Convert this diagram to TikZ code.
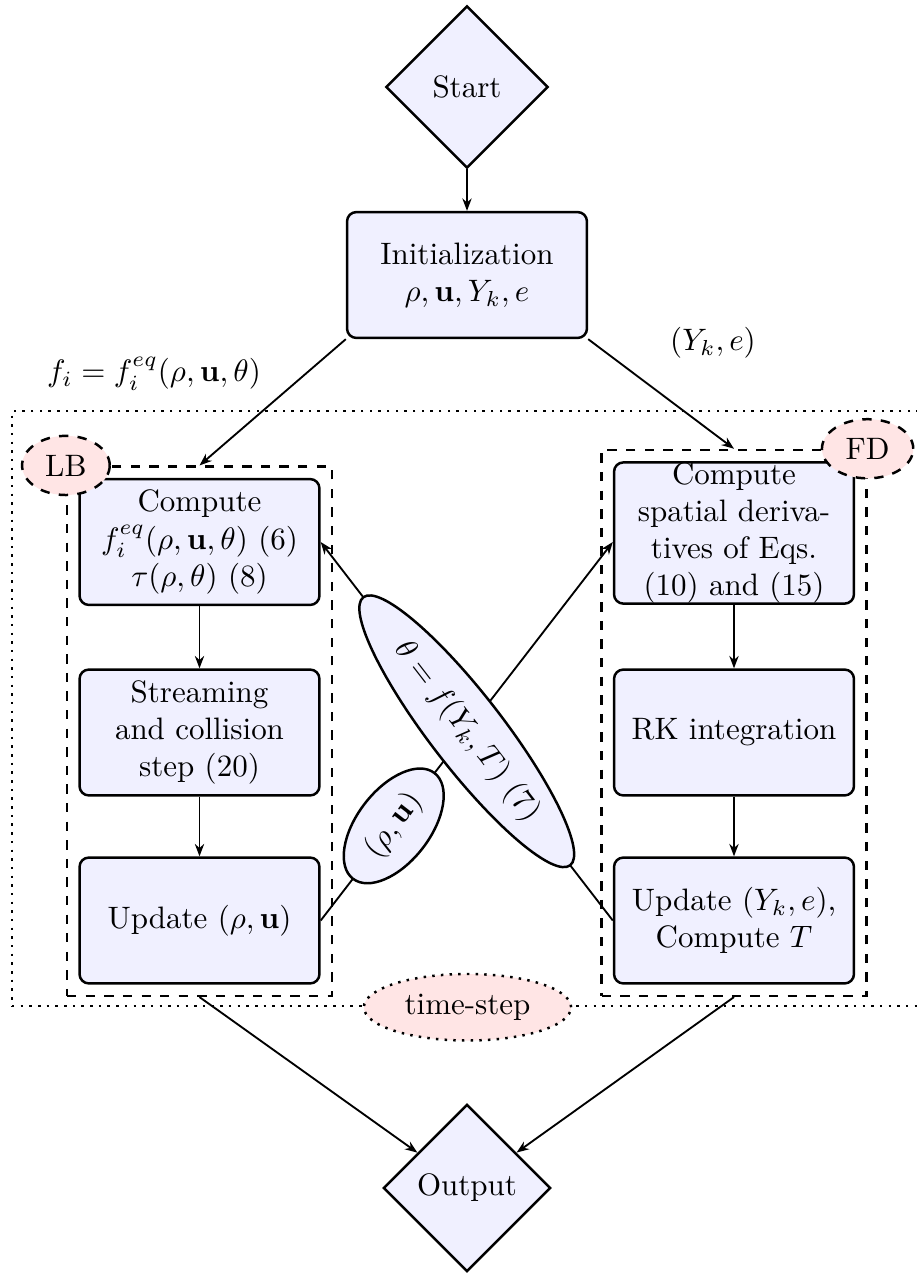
\documentclass[tikz,border=0pt]{standalone}
\usetikzlibrary{shapes.geometric,arrows.meta,fit}
\begin{document}
\begin{tikzpicture}[x=0.3226pt,y=-0.3226pt,
  box/.style={draw, thick, rounded corners=3pt, fill=blue!6, align=center,
    minimum width=77.4pt, minimum height=40.6pt, inner sep=2pt},
  dia/.style={draw, thick, diamond, aspect=1, fill=blue!6,
    minimum width=52.3pt, minimum height=52.3pt, inner sep=1pt},
  frame/.style={draw, dashed, thick, inner sep=3.6pt},
  tag/.style={draw, dashed, thick, ellipse, fill=red!10},
  lab/.style={draw, thick, ellipse, fill=blue!6},
  arr/.style={semithick, -{Stealth[length=4pt,width=3pt]}},
  conn/.style={semithick}]
\useasboundingbox (0,0) rectangle (917,1273);
\clip (0,0) rectangle (917,1273);

% dotted time-step frame
\coordinate (d1) at (12,411);
\coordinate (d2) at (923,1006);
\node[fit=(d1)(d2), inner sep=0pt, draw, dotted, thick] (tsframe) {};

\node[dia] (start) at (467,87) {Start};
\node[box] (init) at (467,275) {Initialization\\ $\rho,\mathbf{u},Y_k,e$};

\node[box] (compL) at (199.5,542) {Compute\\ $f_i^{eq}(\rho,\mathbf{u},\theta)$ (6)\\ $\tau(\rho,\theta)$ (8)};
\node[box] (strL) at (199.5,732.5) {Streaming\\ and collision\\ step (20)};
\node[box] (updL) at (199.5,920.5) {Update $(\rho,\mathbf{u})$};

\node[box, minimum height=45.2pt, inner ysep=0pt] (compR) at (734,533) {Compute\\ spatial deriva-\\ tives of Eqs.\\ (10) and (15)};
\node[box] (rk) at (734,732.5) {RK integration};
\node[box] (updR) at (734,920.5) {Update $(Y_k,e)$,\\ Compute $T$};

\node[frame, fit=(compL)(updL)] (frameL) {};
\node[frame, fit=(compR)(updR)] (frameR) {};
\node[tag] (lb) at (frameL.north west) {LB};
\node[tag] (fd) at (frameR.north east) {FD};

\node[draw, dotted, thick, ellipse, fill=red!10] (ts) at (tsframe.south) {time-step};

\node[dia, minimum width=54pt, minimum height=54pt] (out) at (467,1188) {Output};

% connectors
\draw[arr] (start) -- (init);
\draw[arr] (init.south west) -- (frameL.north);
\draw[arr] (init.south east) -- (frameR.north);
\node (lblL) at (154,374) {$f_i = f_i^{eq}(\rho,\mathbf{u},\theta)$};
\node (lblR) at (713,343) {$(Y_k,e)$};

\draw[arr] (compL) -- (strL);
\draw[arr] (strL) -- (updL);
\draw[arr] (compR) -- (rk);
\draw[arr] (rk) -- (updR);

\draw[arr] (updL.east) -- node[lab, sloped, pos=0.25] (rhou) {$(\rho,\mathbf{u})$} (compR.west |- compL.east);
\draw[arr] (updR.west) -- node[lab, sloped, pos=0.5] (theta) {$\theta = f(Y_k,T)$ (7)} (compL.east);

\draw[arr] (frameL.south) -- (out);
\draw[arr] (frameR.south) -- (out);
\end{tikzpicture}
\end{document}
